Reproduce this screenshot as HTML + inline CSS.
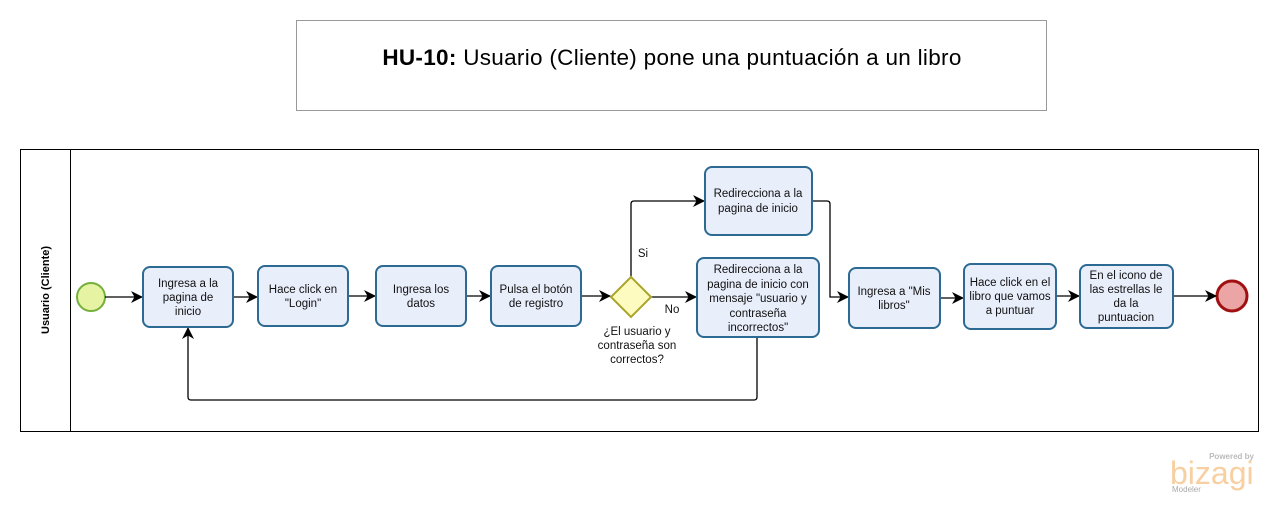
<!DOCTYPE html>
<html><head><meta charset="utf-8"><style>
html,body{margin:0;padding:0;background:#fff;}
svg{display:block;font-family:"Liberation Sans","DejaVu Sans",sans-serif;}
.t{font-size:11.5px;fill:#111;text-anchor:middle;}
.task{fill:#e9eefb;stroke:#2c6a93;stroke-width:2;}
.ln{stroke:#000;stroke-width:1.3;fill:none;}
</style></head><body>
<svg width="1278" height="524" viewBox="0 0 1278 524" xmlns="http://www.w3.org/2000/svg">
<defs><marker id="a" markerWidth="12" markerHeight="12" refX="11" refY="6" orient="auto" markerUnits="userSpaceOnUse"><path d="M0,0 L12,6 L0,12 L3.5,6 z" fill="#000"/></marker></defs>
<rect x="296.5" y="20.5" width="750" height="90" fill="#fff" stroke="#999"/>
<text x="672" y="65" font-size="22.5" text-anchor="middle" fill="#000" letter-spacing="0.3"><tspan font-weight="bold">HU-10:</tspan> Usuario (Cliente) pone una puntuación a un libro</text>
<rect x="20.5" y="149.5" width="1238" height="282" fill="#fff" stroke="#000"/>
<line x1="70.5" y1="149.5" x2="70.5" y2="431.5" stroke="#000"/>
<text transform="translate(49,290) rotate(-90)" font-size="11" font-weight="bold" text-anchor="middle">Usuario (Cliente)</text>
<circle cx="91" cy="297" r="14" fill="#e5f3a3" stroke="#74b03a" stroke-width="2"/>
<circle cx="1232" cy="296" r="15" fill="#eba5a5" stroke="#a01010" stroke-width="3"/>
<path class="ln" d="M105,297 H142" marker-end="url(#a)"/>
<path class="ln" d="M233,297 H257" marker-end="url(#a)"/>
<path class="ln" d="M348,296 H375" marker-end="url(#a)"/>
<path class="ln" d="M466,296 H490" marker-end="url(#a)"/>
<path class="ln" d="M581,296 H610" marker-end="url(#a)"/>
<path class="ln" d="M651,297 H696" marker-end="url(#a)"/>
<path class="ln" d="M631,277 V204 Q631,201 634,201 H704" marker-end="url(#a)"/>
<path class="ln" d="M812,201 H827 Q830,201 830,204 V297 H848" marker-end="url(#a)"/>
<path class="ln" d="M757,337 V397 Q757,400 754,400 H191 Q188,400 188,397 V328" marker-end="url(#a)"/>
<path class="ln" d="M940,298 H963" marker-end="url(#a)"/>
<path class="ln" d="M1056,296 H1079" marker-end="url(#a)"/>
<path class="ln" d="M1173,296 H1216" marker-end="url(#a)"/>
<rect class="task" x="143" y="267" width="90" height="60" rx="7"/>
<text class="t" x="188" y="287">Ingresa a la</text><text class="t" x="188" y="301">pagina de</text><text class="t" x="188" y="315">inicio</text>
<rect class="task" x="258" y="266" width="90" height="60" rx="7"/>
<text class="t" x="303" y="293">Hace click en</text><text class="t" x="303" y="307">"Login"</text>
<rect class="task" x="376" y="266" width="90" height="60" rx="7"/>
<text class="t" x="421" y="293">Ingresa los</text><text class="t" x="421" y="307">datos</text>
<rect class="task" x="491" y="266" width="90" height="60" rx="7"/>
<text class="t" x="536" y="293">Pulsa el botón</text><text class="t" x="536" y="307">de registro</text>
<polygon points="631,277 651,297 631,317 611,297" fill="#fdfbc0" stroke="#a9a52a" stroke-width="2"/>
<text class="t" x="637" y="335">¿El usuario y</text><text class="t" x="637" y="349">contraseña son</text><text class="t" x="637" y="363">correctos?</text>
<text class="t" x="643" y="257">Si</text>
<text class="t" x="672" y="313">No</text>
<rect class="task" x="705" y="167" width="107" height="68" rx="7"/>
<text class="t" x="758" y="197">Redirecciona a la</text><text class="t" x="758" y="212">pagina de inicio</text>
<rect class="task" x="697" y="258" width="122" height="79" rx="7"/>
<text class="t" x="758" y="273">Redirecciona a la</text><text class="t" x="758" y="288">pagina de inicio con</text><text class="t" x="758" y="302">mensaje "usuario y</text><text class="t" x="758" y="317">contraseña</text><text class="t" x="758" y="331">incorrectos"</text>
<rect class="task" x="849" y="268" width="91" height="60" rx="7"/>
<text class="t" x="894" y="295">Ingresa a "Mis</text><text class="t" x="894" y="309">libros"</text>
<rect class="task" x="964" y="264" width="92" height="65" rx="7"/>
<text class="t" x="1010" y="286">Hace click en el</text><text class="t" x="1010" y="300">libro que vamos</text><text class="t" x="1010" y="314">a puntuar</text>
<rect class="task" x="1080" y="265" width="93" height="63" rx="7"/>
<text class="t" x="1126" y="279">En el icono de</text><text class="t" x="1126" y="293">las estrellas le</text><text class="t" x="1126" y="307">da la</text><text class="t" x="1126" y="321">puntuacion</text>
<text x="1254" y="459" font-size="8" font-weight="bold" fill="#bbb" text-anchor="end">Powered by</text>
<text x="1170" y="484" font-size="32" fill="#f8cfa0" letter-spacing="0">bizagi</text>
<text x="1172" y="492" font-size="8" fill="#aaa">Modeler</text>
</svg>
</body></html>
